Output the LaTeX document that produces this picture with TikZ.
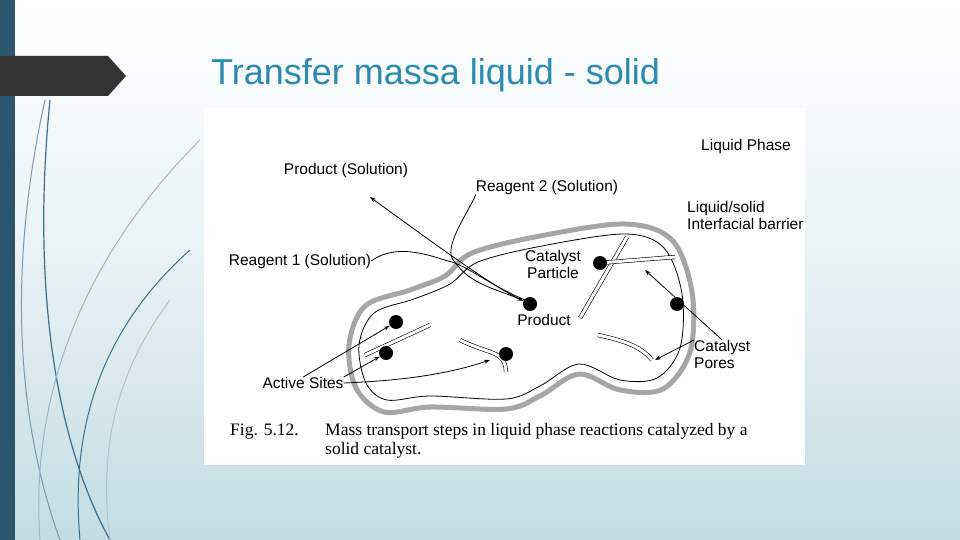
\documentclass[tikz,border=0pt]{standalone}
\usepackage{fontspec}
\setmainfont{Liberation Sans}
\newfontfamily\capfont{Liberation Serif}
\usetikzlibrary{arrows.meta}
\definecolor{bgb}{HTML}{C3DCE4}
\definecolor{barc}{HTML}{2B5670}
\definecolor{titc}{HTML}{2A8AB0}
\definecolor{deco}{HTML}{3A6F8E}
\tikzset{lab/.style={font=\fontsize{15.5}{17}\selectfont, inner sep=0pt},
 ln/.style={black, line width=0.8pt},
 arr/.style={ln, -{Stealth[length=6pt,width=4pt]}},
 dot/.style={circle, fill=black, minimum size=14pt, inner sep=0pt},
 pore/.style={double=white, double distance=3pt, line width=0.6pt}}
\begin{document}
\begin{tikzpicture}[x=1pt,y=-1pt]
\useasboundingbox (0,0) rectangle (960,540);
\shade[top color=white, bottom color=bgb, middle color=white!60!bgb] (0,0) rectangle (960,540);
\fill[barc] (0,0) rectangle (15,540);
% decorative curves
\draw[deco, line width=1.2pt] (50,100) .. controls (30,300) and (60,450) .. (110,540);
\draw[deco!70, line width=1pt] (45,100) .. controls (5,280) and (20,430) .. (60,540);
\draw[deco!50, line width=1pt] (200,140) .. controls (80,260) and (30,400) .. (40,540);
\draw[deco, line width=1pt] (190,250) .. controls (100,330) and (70,430) .. (80,540);
\draw[deco!40, line width=1pt] (170,300) .. controls (110,380) and (100,460) .. (110,540);
\fill[black!80] (0,56) -- (108,56) -- (126,76) -- (108,96) -- (0,96) -- cycle;
\node[anchor=west, text=titc, font=\fontsize{36}{40}\selectfont, inner sep=0] (title) at (211,75) {Transfer massa liquid - solid};
% image
\fill[white] (204,108) rectangle (805,465);
\begin{scope}
\clip (204,108) rectangle (805,465);
% gray band
\draw[black!35, line width=5pt] plot[smooth cycle, tension=0.55] coordinates {(349,345) (365,306) (410,290) (445,276) (472,253) (540,236) (625,224) (672,240) (692,292) (690,352) (663,389) (620,390) (579,374) (540,396) (506,409) (430,407) (384,412) (356,388)};
% inner line
\draw[ln] plot[smooth cycle, tension=0.55] coordinates {(359,345) (374,313) (414,299) (450,284) (478,262) (542,246) (625,234) (664,248) (682,294) (680,348) (657,378) (620,380) (579,364) (540,386) (506,399) (430,396) (387,400) (366,383)};
% pores
\draw[pore] (365,355) -- (430,325);
\draw[pore] (460,340) .. controls (490,355) and (505,350) .. (506,372);
\draw[pore] (598,335) .. controls (620,340) and (640,345) .. (652,360);
\draw[pore] (627,237) -- (580,318);
\draw[pore] (599,263) -- (675,257);
% dots
\node[dot] (d1) at (396,322) {};
\node[dot] (d2) at (386,353) {};
\node[dot] (d3) at (506,354) {};
\node[dot] (d4) at (530,304) {};
\node[dot] (d5) at (600,263) {};
\node[dot] (d6) at (677,304) {};
% labels
\node[lab] (lp) at (746,146) {Liquid Phase};
\node[lab] (ps) at (346,170) {Product (Solution)};
\node[lab] (r2) at (547,187) {Reagent 2 (Solution)};
\node[lab, anchor=north west, align=left] (ls) at (687,201) {Liquid/solid\\Interfacial barrier};
\node[lab] (r1) at (300,261) {Reagent 1 (Solution)};
\node[lab, align=center] (cp) at (553,264) {Catalyst\\Particle};
\node[lab] (pr) at (544,320) {Product};
\node[lab, anchor=north west, align=left] (cpo) at (694,340) {Catalyst\\Pores};
\node[lab] (as) at (303,383) {Active Sites};
% connectors
\coordinate (pt) at (370,197);
\draw[arr] (d4) .. controls (500,290) and (470,270) .. (pt);
\draw[ln] (r1.east) .. controls (400,240) and (440,260) .. (452,262) .. controls (470,268) and (490,285) .. (525,300);
\draw[arr] (r2.south west) .. controls (470,210) and (440,250) .. (455,262) .. controls (470,285) and (500,290) .. (d4);
\draw[arr] (as.north) -- (d1);
\draw[arr] (as.north east) -- (d2);
\draw[arr] (as.east) .. controls (420,380) and (460,370) .. (490,360);
\draw[arr] (cpo.north west) -- (655,360);
\draw[arr] (cpo.north) -- (645,270);
\end{scope}
\node[anchor=west, font=\capfont\fontsize{17.5}{19}\selectfont, inner sep=0] (fig) at (230,432) {Fig. 5.12.};
\node[anchor=north west, align=left, font=\capfont\fontsize{17.5}{19}\selectfont, inner sep=0] (cap) at (325,423) {Mass transport steps in liquid phase reactions catalyzed by a\\solid catalyst.};
\end{tikzpicture}
\end{document}
